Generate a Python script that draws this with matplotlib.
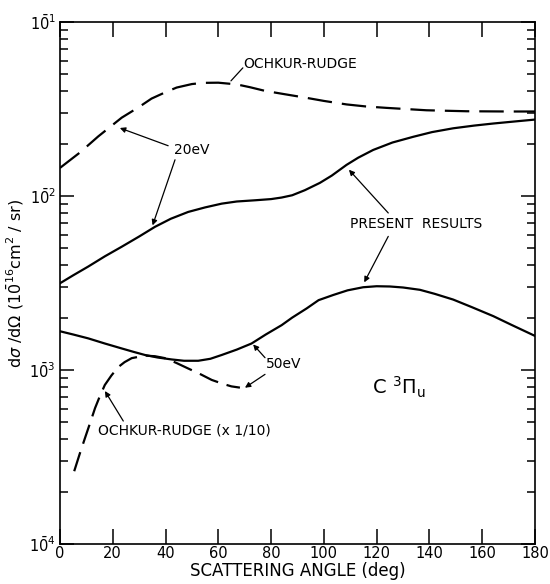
import numpy as np
import matplotlib
matplotlib.use("Agg")
import matplotlib.pyplot as plt
from matplotlib.ticker import FixedLocator, LogLocator, NullFormatter, NullLocator

plt.rcParams['font.family'] = ['DejaVu Sans']
plt.rcParams['mathtext.fontset'] = 'dejavusans'

# C 3Pi_u differential cross sections, units of 1e-16 cm^2/sr
ang_or20 = [0, 7.6, 14.5, 23.4, 30, 34.7, 40, 44.2, 50, 54.3, 60, 67, 72, 77.7,
            85, 92.8, 100, 108.6, 116, 123.8, 138.9, 154.1, 170, 180]
dcs_or20 = [0.0145, 0.0178, 0.0220, 0.0282, 0.0325, 0.0363, 0.0395, 0.0420,
            0.0440, 0.0447, 0.0448, 0.0438, 0.0422, 0.0402, 0.0385, 0.0368,
            0.0352, 0.0336, 0.0327, 0.0321, 0.0311, 0.0307, 0.0306, 0.0306]

ang_pr20 = [0, 5, 10.7, 17, 23.4, 30, 36, 42, 48.6, 55, 61.3, 67, 73.9, 80, 84,
            88, 92.8, 98.5, 103, 108.6, 113, 118.7, 126, 133.9, 141, 149, 157,
            164.2, 171, 180]
dcs_pr20 = [0.00315, 0.00350, 0.00393, 0.00450, 0.00511, 0.00585, 0.00665,
            0.00740, 0.00810, 0.00860, 0.00904, 0.00930, 0.00945, 0.00960,
            0.00980, 0.0101, 0.0108, 0.0119, 0.0131, 0.0151, 0.0166, 0.0184,
            0.0203, 0.0219, 0.0233, 0.0245, 0.0254, 0.0261, 0.0267, 0.0275]

ang_pr50 = [0, 5, 10.7, 17, 23.4, 28, 32.2, 37, 42.3, 47, 52.4, 57, 61.3, 67,
            72.6, 78, 84, 88, 93.5, 98, 103.6, 109, 114.9, 120, 125, 130,
            136.4, 142, 149, 156, 164.2, 171, 180]
dcs_pr50 = [0.00167, 0.00160, 0.00152, 0.00142, 0.00133, 0.00127, 0.00122,
            0.00118, 0.00115, 0.00113, 0.00113, 0.00116, 0.00122, 0.00131,
            0.00142, 0.00160, 0.00181, 0.00200, 0.00226, 0.00252, 0.00270,
            0.00287, 0.00299, 0.00303, 0.00302, 0.00298, 0.00289, 0.00274,
            0.00254, 0.00230, 0.00204, 0.00182, 0.00157]

# Ochkur-Rudge at 50 eV, scaled by 1/10
ang_or50 = [5.4, 7.5, 9.5, 11.5, 13.3, 15, 17, 19.5, 22.1, 24.5, 27.2, 32.2,
            36, 39.8, 44, 48.6, 53, 57.5, 62, 65, 68.2]
dcs_or50 = [2.62e-4, 3.3e-4, 4.07e-4, 5.0e-4, 6.04e-4, 7.0e-4, 8.2e-4, 9.3e-4,
            1.04e-3, 1.11e-3, 1.17e-3, 1.21e-3, 1.20e-3, 1.17e-3, 1.10e-3,
            1.02e-3, 9.5e-4, 8.77e-4, 8.3e-4, 8.05e-4, 7.92e-4]

x_ticks = [0, 20, 40, 60, 80, 100, 120, 140, 160, 180]
y_ticks = [1e-4, 1e-3, 1e-2, 1e-1]
y_tick_labels = [r'$1\bar{0}^{4}$', r'$1\bar{0}^{3}$', r'$1\bar{0}^{2}$', r'$1\bar{0}^{1}$']

fig = plt.figure(figsize=(5.5, 5.84), dpi=100)
ax = fig.add_axes([0.109, 0.0685, 0.8637, 0.8938])

lw = 1.6
ax.plot(ang_or20, dcs_or20, color='black', lw=lw, dashes=(11.0, 4.5))
ax.plot(ang_pr20, dcs_pr20, color='black', lw=lw)
ax.plot(ang_pr50, dcs_pr50, color='black', lw=lw)
ax.plot(ang_or50, dcs_or50, color='black', lw=lw, dashes=(9.0, 4.0))

ax.set_yscale('log')
ax.set_xlim(0, 180)
ax.set_ylim(1e-4, 1e-1)

ax.xaxis.set_major_locator(FixedLocator(x_ticks))
ax.xaxis.set_minor_locator(NullLocator())
ax.set_xticklabels([str(v) for v in x_ticks])
ax.yaxis.set_major_locator(FixedLocator(y_ticks))
ax.yaxis.set_minor_locator(LogLocator(base=10, subs=np.arange(2, 10)))
ax.yaxis.set_minor_formatter(NullFormatter())
ax.set_yticklabels(y_tick_labels)

ax.tick_params(which='both', direction='in', top=True, right=True,
               width=1.1, labelsize=10.5, colors='black')
ax.tick_params(axis='x', which='major', length=11, pad=1.5)
ax.tick_params(axis='y', which='major', length=10, pad=3)
ax.tick_params(axis='y', which='minor', length=6)
for s in ax.spines.values():
    s.set_linewidth(1.2)

ax.set_xlabel('SCATTERING ANGLE (deg)', fontsize=12, labelpad=1)
ax.set_ylabel(r'd$\sigma$ /d$\Omega$ ($1\bar{0}^{16}$cm$^2$ / sr)', fontsize=11.5,
              labelpad=2)

txt = dict(fontsize=10, color='black')
thin = dict(arrowstyle='-|>', color='black', lw=0.9, mutation_scale=8,
            shrinkA=0, shrinkB=0)

# 20 eV labels
ax.text(69.3, 0.0574, 'OCHKUR-RUDGE', ha='left', va='center', **txt)
ax.annotate('', xy=(64.8, 0.0459), xytext=(69.3, 0.0545),
            arrowprops=dict(arrowstyle='-', color='black', lw=0.9,
                            shrinkA=0, shrinkB=0))
ax.text(49.9, 0.01828, '20eV', ha='center', va='center', **txt)
ax.annotate('', xy=(22.7, 0.0246), xytext=(41.0, 0.01945), arrowprops=thin)
ax.annotate('', xy=(35.1, 0.00678), xytext=(43.6, 0.01615), arrowprops=thin)

ax.text(134.9, 0.00693, 'PRESENT  RESULTS', ha='center', va='center', **txt)
ax.annotate('', xy=(109.5, 0.01416), xytext=(124.4, 0.00799), arrowprops=thin)
ax.annotate('', xy=(115.3, 0.00319), xytext=(124.4, 0.00586), arrowprops=thin)

# 50 eV labels
ax.text(84.9, 0.001076, '50eV', ha='center', va='center', **txt)
ax.annotate('', xy=(73.2, 0.001403), xytext=(77.7, 0.001177), arrowprops=thin)
ax.annotate('', xy=(70.1, 0.000791), xytext=(77.7, 0.000944), arrowprops=thin)

ax.text(14.4, 0.00045, 'OCHKUR-RUDGE (x 1/10)', ha='left', va='center', **txt)
ax.annotate('', xy=(17.05, 0.000757), xytext=(24.0, 0.000509), arrowprops=thin)

ax.text(118.1, 0.00079, r'C $^{3}\Pi_{\mathrm{u}}$', ha='left', va='center',
        fontsize=14, color='black')

fig.savefig('out.png', dpi=100, facecolor='white')
